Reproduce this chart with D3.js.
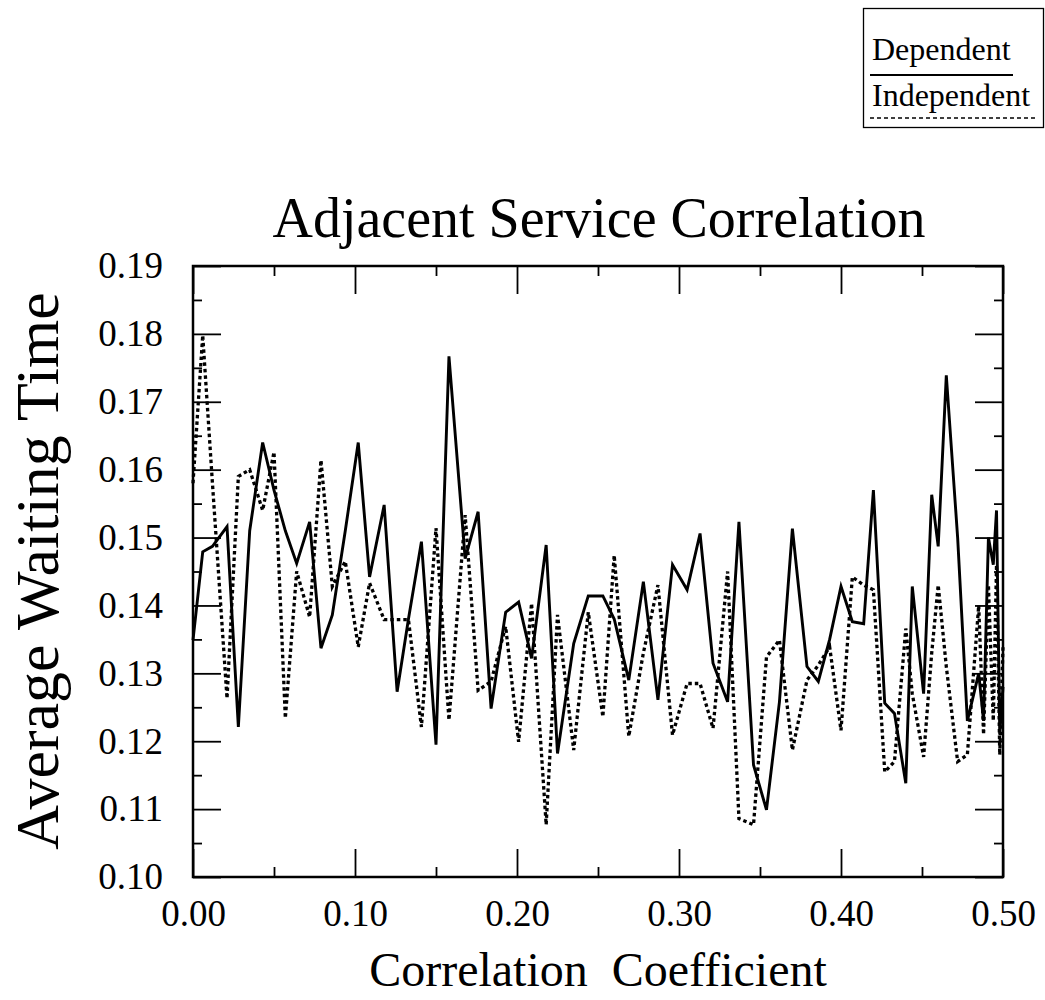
<!DOCTYPE html>
<html>
<head>
<meta charset="utf-8">
<script src="https://cdn.jsdelivr.net/npm/d3@7"></script>
<style>
  body { margin: 0; background: #fff; }
  svg { display: block; font-family: "Liberation Serif", "Times New Roman", serif; }
</style>
</head>
<body>
<script>
// correlation coefficient at each simulated point (x values)
const corr = [0.000, 0.006, 0.012, 0.021, 0.028, 0.035, 0.043, 0.050, 0.057, 0.064,
  0.072, 0.079, 0.086, 0.094, 0.102, 0.109, 0.118, 0.126, 0.133, 0.141,
  0.150, 0.158, 0.168, 0.176, 0.184, 0.193, 0.201, 0.209, 0.218, 0.225,
  0.235, 0.244, 0.253, 0.260, 0.269, 0.278, 0.287, 0.296, 0.305, 0.313,
  0.321, 0.330, 0.337, 0.346, 0.354, 0.362, 0.370, 0.379, 0.386, 0.393,
  0.400, 0.407, 0.414, 0.420, 0.427, 0.433, 0.440, 0.444, 0.451, 0.456,
  0.460, 0.465, 0.472, 0.478, 0.485, 0.488, 0.491, 0.494, 0.496, 0.498, 0.500];

// average waiting time, dependent services (solid line)
const dependent = [0.1349, 0.1479, 0.1487, 0.1516, 0.1221, 0.151, 0.164, 0.157, 0.151, 0.1462,
  0.1523, 0.1337, 0.1386, 0.151, 0.164, 0.1442, 0.1548, 0.1273, 0.138, 0.1494,
  0.1195, 0.1767, 0.1469, 0.1538, 0.1248, 0.139, 0.1405, 0.1322, 0.1489, 0.1182,
  0.1344, 0.1414, 0.1414, 0.138, 0.129, 0.1435, 0.1261, 0.146, 0.1423, 0.1506,
  0.1315, 0.1258, 0.1523, 0.1165, 0.1099, 0.1258, 0.1513, 0.131, 0.1288, 0.135,
  0.1428, 0.1376, 0.1373, 0.157, 0.1256, 0.1241, 0.1138, 0.1428, 0.127, 0.1563,
  0.1487, 0.1739, 0.150, 0.123, 0.130, 0.123, 0.150, 0.146, 0.154, 0.121, 0.128];

// average waiting time, independent services (dotted line)
const independent = [0.158, 0.1798, 0.158, 0.1263, 0.159, 0.160, 0.154, 0.1626, 0.1234, 0.145,
  0.1383, 0.1614, 0.1428, 0.1465, 0.1339, 0.1433, 0.1379, 0.1379, 0.1379, 0.1221,
  0.1514, 0.1231, 0.1533, 0.1275, 0.1288, 0.1369, 0.1199, 0.1403, 0.1077, 0.1386,
  0.1187, 0.139, 0.1236, 0.1474, 0.1207, 0.133, 0.143, 0.1209, 0.1285, 0.1285,
  0.1219, 0.145, 0.1086, 0.1077, 0.1324, 0.1349, 0.1187, 0.129, 0.1312, 0.1339,
  0.1216, 0.1442, 0.143, 0.1423, 0.1155, 0.117, 0.1366, 0.127, 0.1177, 0.133,
  0.143, 0.131, 0.117, 0.118, 0.140, 0.121, 0.143, 0.123, 0.146, 0.118, 0.134];

const xMajor = [0.00, 0.10, 0.20, 0.30, 0.40, 0.50];
const xMinor = [0.05, 0.15, 0.25, 0.35, 0.45];
const yMajor = [0.10, 0.11, 0.12, 0.13, 0.14, 0.15, 0.16, 0.17, 0.18, 0.19];
const yMinor = [0.105, 0.115, 0.125, 0.135, 0.145, 0.155, 0.165, 0.175, 0.185];

const width = 1045, height = 1000;
const plot = {left: 193, right: 1003, top: 266, bottom: 877};

const svg = d3.select("body").append("svg")
  .attr("width", width)
  .attr("height", height);

svg.append("rect").attr("width", width).attr("height", height).attr("fill", "#fff");

const x = d3.scaleLinear().domain([0, 0.5]).range([plot.left, plot.right]);
const y = d3.scaleLinear().domain([0.10, 0.19]).range([plot.bottom, plot.top]);

// ticks point inward on all four sides, labels only bottom and left
function styleAxis(g, fontSize) {
  g.attr("font-family", null).attr("font-size", fontSize);
  g.select(".domain").remove();
  g.selectAll(".tick line").attr("stroke", "#000").attr("stroke-width", 1.8);
  g.selectAll(".tick text").attr("fill", "#000");
}

svg.append("g")
  .attr("transform", "translate(0," + plot.bottom + ")")
  .call(d3.axisBottom(x).tickValues(xMajor).tickFormat(d3.format(".2f")).tickSize(-28).tickPadding(23))
  .call(g => styleAxis(g, 37));
svg.append("g")
  .attr("transform", "translate(0," + plot.bottom + ")")
  .call(d3.axisBottom(x).tickValues(xMinor).tickFormat("").tickSize(-10))
  .call(g => styleAxis(g, 37));
svg.append("g")
  .attr("transform", "translate(0," + plot.top + ")")
  .call(d3.axisTop(x).tickValues(xMajor).tickFormat("").tickSize(-28))
  .call(g => styleAxis(g, 37));
svg.append("g")
  .attr("transform", "translate(0," + plot.top + ")")
  .call(d3.axisTop(x).tickValues(xMinor).tickFormat("").tickSize(-10))
  .call(g => styleAxis(g, 37));

svg.append("g")
  .attr("transform", "translate(" + plot.left + ",0)")
  .call(d3.axisLeft(y).tickValues(yMajor).tickFormat(d3.format(".2f")).tickSize(-28).tickPadding(30))
  .call(g => styleAxis(g, 37));
svg.append("g")
  .attr("transform", "translate(" + plot.left + ",0)")
  .call(d3.axisLeft(y).tickValues(yMinor).tickFormat("").tickSize(-9))
  .call(g => styleAxis(g, 37));
svg.append("g")
  .attr("transform", "translate(" + plot.right + ",0)")
  .call(d3.axisRight(y).tickValues(yMajor).tickFormat("").tickSize(-28))
  .call(g => styleAxis(g, 37));
svg.append("g")
  .attr("transform", "translate(" + plot.right + ",0)")
  .call(d3.axisRight(y).tickValues(yMinor).tickFormat("").tickSize(-9))
  .call(g => styleAxis(g, 37));

// frame
svg.append("rect")
  .attr("x", plot.left).attr("y", plot.top)
  .attr("width", plot.right - plot.left).attr("height", plot.bottom - plot.top)
  .attr("fill", "none").attr("stroke", "#000").attr("stroke-width", 2.5);

const line = d3.line()
  .x((d, i) => x(corr[i]))
  .y(d => y(d));

svg.append("path")
  .datum(independent)
  .attr("fill", "none")
  .attr("stroke", "#000")
  .attr("stroke-width", 3.3)
  .attr("stroke-dasharray", "3.5,3")
  .attr("d", line);

svg.append("path")
  .datum(dependent)
  .attr("fill", "none")
  .attr("stroke", "#000")
  .attr("stroke-width", 2.9)
  .attr("d", line);

// titles
svg.append("text")
  .attr("x", 599).attr("y", 237)
  .attr("text-anchor", "middle")
  .attr("font-size", 56)
  .text("Adjacent Service Correlation");

svg.append("text")
  .attr("transform", "translate(58,571) rotate(-90)")
  .attr("text-anchor", "middle")
  .attr("font-size", 62)
  .text("Average Waiting Time");

svg.append("text")
  .attr("x", 598).attr("y", 986)
  .attr("text-anchor", "middle")
  .attr("font-size", 48)
  .style("white-space", "pre")
  .text("Correlation  Coefficient");

// legend box
const legend = svg.append("g");
legend.append("rect")
  .attr("x", 863.5).attr("y", 8.5).attr("width", 180).attr("height", 119)
  .attr("fill", "none").attr("stroke", "#000").attr("stroke-width", 1.3);
legend.append("text").attr("x", 872).attr("y", 60).attr("font-size", 32).text("Dependent");
legend.append("line").attr("x1", 870).attr("x2", 1013).attr("y1", 75).attr("y2", 75)
  .attr("stroke", "#000").attr("stroke-width", 2);
legend.append("text").attr("x", 872).attr("y", 106).attr("font-size", 32).text("Independent");
legend.append("line").attr("x1", 870).attr("x2", 1037).attr("y1", 118).attr("y2", 118)
  .attr("stroke", "#000").attr("stroke-width", 1.5).attr("stroke-dasharray", "4,3");
</script>
</body>
</html>
